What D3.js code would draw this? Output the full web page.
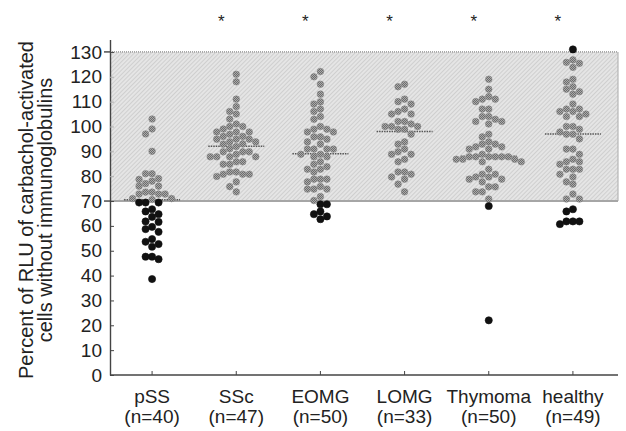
<!DOCTYPE html>
<html>
<head>
<meta charset="utf-8">
<script src="https://cdn.jsdelivr.net/npm/d3@7"></script>
<style>
  html, body { margin: 0; padding: 0; background: #fff; }
  svg { display: block; font-family: "Liberation Sans", Arial, Helvetica, sans-serif; }
</style>
</head>
<body>
<svg id="chart" width="626" height="431"></svg>
<script>
// Groups, sample sizes and significance markers
const categories = ["pSS", "SSc", "EOMG", "LOMG", "Thymoma", "healthy"];
const counts = [40, 47, 50, 33, 50, 49];
const significant = [false, true, true, true, true, true];
const medians = [70.5, 92, 89, 98, 88, 97];
const referenceRange = [70, 130];
const yTicks = [0, 10, 20, 30, 40, 50, 60, 70, 80, 90, 100, 110, 120, 130];

// Percent of RLU per subject
const pSS = [103, 99, 97, 90, 81, 81, 79, 78.7, 78, 77, 76, 76, 73.6, 73.6, 72.8, 72.8, 72.8, 71, 71, 70.6,
  69.4, 69.4, 69.4, 66.7, 65.8, 64.7, 63.6, 61.8, 61.6, 59.6, 58.7, 57.6, 54.7, 53.6, 52.7, 51.6, 47.6, 47.6, 46.6, 38.6];
const SSc = [121, 118, 111, 108, 106, 105, 103, 101, 100, 100, 99, 97.8, 97.8, 97.8, 96.9, 96, 96, 94.9, 94.9, 94.9,
  93.8, 93.8, 93, 92.9, 91.9, 91, 89.8, 89.8, 89.8, 88.8, 87.8, 87.8, 87.8, 87.8, 85.8, 85.8, 84.8, 84.8,
  81.7, 81.7, 80.8, 80.8, 80.8, 79.9, 77.7, 75.8, 73.7];
const EOMG = [122.1, 120, 117, 113, 109.9, 109, 107, 106, 104, 102.9, 100, 98.9, 98.9, 97.8, 97.8, 95.8, 95.8, 94.9, 93.8, 92.9,
  90.9, 90.9, 90.9, 90.9, 88.8, 88.8, 87.8, 87.8, 85.8, 84.8, 83.8, 82.8, 82.8, 81.7, 78.8, 78.8, 78.8, 77.7, 75.8, 74.8,
  74.8, 74.8, 71.8, 70.2, 68.7, 68.7, 65.8, 64.7, 63.8, 62.7];
const LOMG = [117, 116, 111, 110, 109, 107, 106, 105, 105, 102, 102, 101, 100, 100, 100, 98.9, 98.9, 96.9, 93.8, 92.9,
  90.9, 89.8, 88.8, 88.8, 86.8, 85.8, 81.7, 81.7, 80.8, 79.7, 78.8, 76.8, 73.7];
const Thymoma = [119, 115, 112, 111, 111, 110, 107, 107, 104, 104, 102.9, 102, 102, 101, 96.9, 95.8, 93.8, 92.9, 92.9, 91.8,
  91.8, 90.9, 90.9, 88.8, 87.8, 87.8, 87.8, 87.8, 87.8, 86.8, 86.8, 86.8, 85.8, 85.8, 82.8, 80.8, 80.8, 79.7, 79.7, 78.8,
  78.8, 77.7, 75.7, 75.7, 73.7, 73.7, 70.8, 68, 22, 87.8];
const healthy = [131, 126.8, 125.8, 125.4, 123.8, 119, 117.9, 116, 115, 114, 113, 109, 107, 107, 106, 106, 105, 104, 104, 100,
  100, 98.9, 97.8, 96.9, 96.9, 95, 90.9, 90.9, 88.8, 86.8, 85.8, 85.8, 84.8, 82.8, 82.8, 82.8, 80.8, 79.7, 77.7, 76.8,
  72.8, 70.8, 70.8, 66.7, 65.8, 61.8, 61.8, 61.8, 60.7];
const seriesValues = [pSS, SSc, EOMG, LOMG, Thymoma, healthy];

const svg = d3.select("#chart");
const plotLeft = 110, plotRight = 618;

const x = d3.scaleBand().domain(categories).range([110, 615]);
const y = d3.scaleLinear().domain([0, 135]).range([375, 39.5]);
const cx = c => x(c) + x.bandwidth() / 2;

// Fill patterns: fine diagonal hatching for the reference band, halftone for dots
const defs = svg.append("defs");
const hatch = defs.append("pattern")
  .attr("id", "hatch").attr("patternUnits", "userSpaceOnUse")
  .attr("width", 3).attr("height", 3).attr("patternTransform", "rotate(45)");
hatch.append("rect").attr("width", 3).attr("height", 3).attr("fill", "#e5e5e5");
hatch.append("line").attr("x1", 0.5).attr("y1", 0).attr("x2", 0.5).attr("y2", 3)
  .attr("stroke", "#cfcfcf").attr("stroke-width", 1);

const tex = defs.append("pattern")
  .attr("id", "halftone").attr("patternUnits", "userSpaceOnUse")
  .attr("width", 2).attr("height", 2);
tex.append("rect").attr("width", 2).attr("height", 2).attr("fill", "#aaaaaa");
tex.append("rect").attr("width", 1).attr("height", 1).attr("fill", "#6c6c6c");
tex.append("rect").attr("x", 1).attr("y", 1).attr("width", 1).attr("height", 1).attr("fill", "#6c6c6c");

// Reference band 70–130 %
const bandTop = y(referenceRange[1]), bandBot = y(referenceRange[0]);
svg.append("rect")
  .attr("x", plotLeft).attr("y", bandTop)
  .attr("width", plotRight - plotLeft).attr("height", bandBot - bandTop)
  .attr("fill", "url(#hatch)");
svg.append("line")
  .attr("x1", plotLeft).attr("x2", plotRight).attr("y1", bandTop).attr("y2", bandTop)
  .attr("stroke", "#8a8a8a").attr("stroke-width", 1.2).attr("stroke-dasharray", "1,1");
svg.append("line")
  .attr("x1", plotRight).attr("x2", plotRight).attr("y1", bandTop).attr("y2", bandBot)
  .attr("stroke", "#b5b5b5").attr("stroke-width", 1.2);
svg.append("line")
  .attr("x1", plotLeft).attr("x2", plotRight).attr("y1", bandBot).attr("y2", bandBot)
  .attr("stroke", "#a6a6a6").attr("stroke-width", 2);
referenceRange.forEach(v => {
  svg.append("line")
    .attr("x1", plotLeft - 6).attr("x2", plotLeft).attr("y1", y(v)).attr("y2", y(v))
    .attr("stroke", "#333").attr("stroke-width", 1.3);
});

// Y axis
const gy = svg.append("g")
  .attr("transform", `translate(${plotLeft},0)`)
  .call(d3.axisLeft(y).tickValues(yTicks).tickSizeInner(-4).tickSizeOuter(0).tickPadding(8));
gy.select(".domain").attr("stroke", "#444").attr("stroke-width", 1.4);
gy.selectAll(".tick line")
  .attr("stroke", d => (d > referenceRange[0] && d < referenceRange[1]) ? "#b0b0b0" : "#444")
  .attr("stroke-width", 1);
gy.selectAll(".tick text")
  .attr("font-size", 19).attr("fill", "#222")
  .attr("font-family", "'Liberation Sans', Arial, sans-serif");

// X axis
const gx = svg.append("g")
  .attr("transform", `translate(0,${y(0)})`)
  .call(d3.axisBottom(x).tickSizeInner(-4).tickSizeOuter(0));
gx.select(".domain").remove();
gx.append("line").attr("x1", plotLeft).attr("x2", plotRight).attr("y1", 0).attr("y2", 0)
  .attr("stroke", "#444").attr("stroke-width", 1.4);
gx.selectAll(".tick line").attr("stroke", "#444").attr("stroke-width", 1);
gx.selectAll(".tick text")
  .attr("font-size", 19).attr("fill", "#222")
  .attr("font-family", "'Liberation Sans', Arial, sans-serif")
  .attr("y", null).attr("dy", null)
  .text(null)
  .each(function (d, i) {
    const t = d3.select(this);
    t.append("tspan").attr("x", 0).attr("y", 28).text(d);
    t.append("tspan").attr("x", 0).attr("y", 48).text(`(n=${counts[i]})`);
  });

// Y axis title
const title = svg.append("text")
  .attr("transform", "translate(33,210) rotate(-90)")
  .attr("text-anchor", "middle").attr("font-size", 20).attr("fill", "#222");
title.append("tspan").attr("x", 0).attr("y", 0).text("Percent of RLU of carbachol-activated");
title.append("tspan").attr("x", 0).attr("y", 19).text("cells without immunoglobulins");

// Beeswarm offsets: dots sit in columns, pushed sideways only when they would overlap
function swarmOffsets(values, step, minDist) {
  const order = values.map((v, i) => ({ v, i })).sort((a, b) => b.v - a.v);
  const placed = [];
  const out = new Array(values.length).fill(0);
  for (const p of order) {
    const py = y(p.v);
    for (let k = 0; k < 60; k++) {
      const col = k === 0 ? 0 : (k % 2 ? -Math.ceil(k / 2) : Math.ceil(k / 2));
      const px = col * step;
      if (placed.every(q => (q.x - px) ** 2 + (q.y - py) ** 2 >= minDist * minDist - 0.01)) {
        placed.push({ x: px, y: py });
        out[p.i] = px;
        break;
      }
    }
  }
  return out;
}

// Median bars
svg.append("g").selectAll("line")
  .data(categories)
  .join("line")
  .attr("x1", c => cx(c) - 28).attr("x2", c => cx(c) + 28)
  .attr("y1", (c, i) => y(medians[i])).attr("y2", (c, i) => y(medians[i]))
  .attr("stroke", "#555").attr("stroke-width", 1.5).attr("stroke-dasharray", "1.5,1");

// Dots: grey inside the reference band, black outside it
const inRange = v => v >= referenceRange[0] && v <= referenceRange[1];
categories.forEach((c, gi) => {
  const vals = seriesValues[gi];
  const offs = swarmOffsets(vals, 6.5, 6.5);
  svg.append("g").selectAll("circle")
    .data(vals)
    .join("circle")
    .attr("cx", (v, i) => cx(c) + offs[i])
    .attr("cy", v => y(v))
    .attr("r", v => inRange(v) ? 3.3 : 3.6)
    .attr("fill", v => inRange(v) ? "url(#halftone)" : "#111")
    .attr("stroke", v => inRange(v) ? "#858585" : "#111")
    .attr("stroke-width", 0.6);
});

// Significance asterisks
svg.append("g").selectAll("text")
  .data(categories.filter((c, i) => significant[i]))
  .join("text")
  .attr("x", c => cx(c) - 15)
  .attr("y", 27)
  .attr("text-anchor", "middle")
  .attr("font-size", 17).attr("fill", "#222")
  .text("*");
</script>
</body>
</html>
